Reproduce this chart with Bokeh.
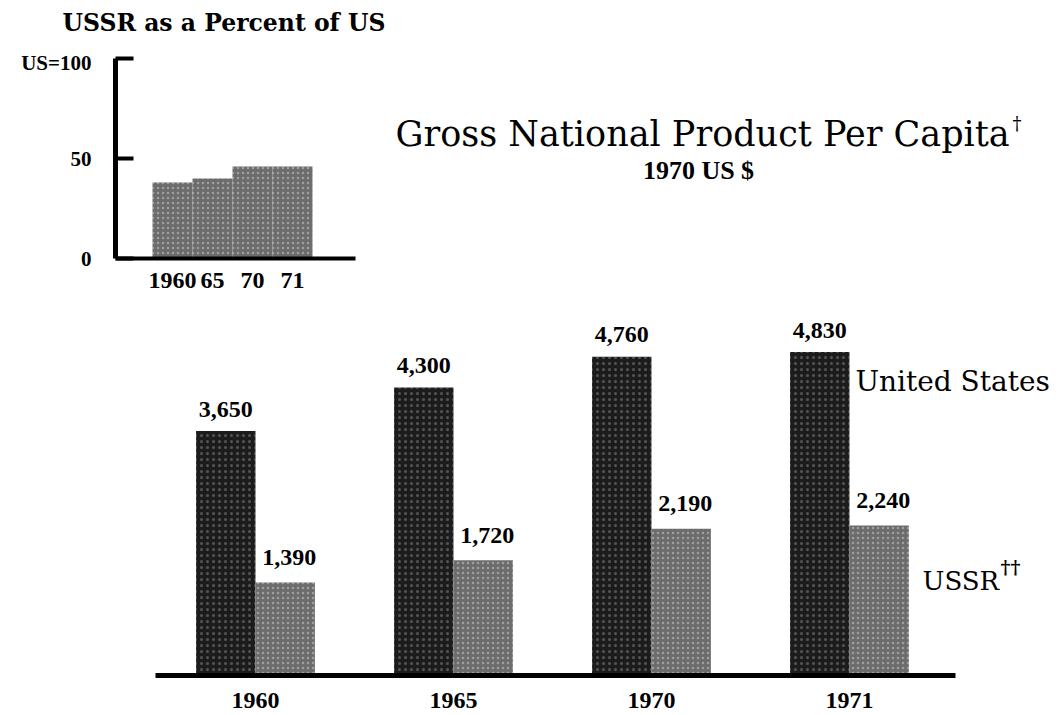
from bokeh.plotting import figure
from bokeh.models import Label, FixedTicker, Range1d, ColumnDataSource
from bokeh.layouts import column, row
from bokeh.embed import file_html
from bokeh.resources import INLINE
from bokeh.core.properties import value

# ---------------- data ----------------
years = ["1960", "1965", "1970", "1971"]
us_gnp = [3650, 4300, 4760, 4830]
ussr_gnp = [1390, 1720, 2190, 2240]

inset_years = ["1960", "65", "70", "71"]
ussr_pct_of_us = [38, 40, 46, 46]
inset_ticks = [0, 50, 100]
inset_tick_labels = {0: "0", 50: "50", 100: "US=100"}

SERIF = "DejaVu Serif"
NUMF = "Liberation Serif"
US_COLOR = "#1c1c1c"
USSR_COLOR = "#6c6c6c"


def base_fig(**kw):
    f = figure(output_backend="svg", toolbar_location=None, **kw)
    f.outline_line_color = None
    f.xgrid.grid_line_color = None
    f.ygrid.grid_line_color = None
    if hasattr(f, "frame_align"):
        f.frame_align = False
    return f


def text_fig(w, h):
    return base_fig(width=w, height=h, x_range=Range1d(0, w), y_range=Range1d(0, h),
                    x_axis_location=None, y_axis_location=None,
                    min_border_left=0, min_border_right=0, min_border_top=0, min_border_bottom=0)


# ---------------- small title above the inset ----------------
cap = text_fig(390, 50)
cap.add_layout(Label(x=62, y=28, text="USSR as a Percent of US", text_font=SERIF,
                     text_font_style="bold", text_font_size="23.5px", text_baseline="middle",
                     text_align="left", text_color="black"))

# ---------------- inset ----------------
inset = base_fig(width=390, height=250, x_range=Range1d(-1.425, 4.575), y_range=Range1d(0, 100),
                 min_border_left=115, min_border_right=35, min_border_top=8, min_border_bottom=42)
idx = list(range(len(inset_years)))
inset.vbar(x=idx, top=ussr_pct_of_us, bottom=0, width=1.0, fill_color=USSR_COLOR, line_color=None,
           hatch_pattern="dot", hatch_color="white", hatch_alpha=0.35, hatch_scale=5)

xa = inset.xaxis[0]
xa.ticker = FixedTicker(ticks=idx)
xa.major_label_overrides = {i: s for i, s in zip(idx, inset_years)}
xa.axis_line_width = 4
xa.major_tick_in = 0
xa.major_tick_out = 0
xa.minor_tick_line_color = None
xa.major_label_standoff = 14
xa.major_label_text_font = NUMF
xa.major_label_text_font_style = "bold"
xa.major_label_text_font_size = "24px"
xa.major_label_text_color = "black"

ya = inset.yaxis[0]
ya.ticker = FixedTicker(ticks=inset_ticks)
ya.major_label_overrides = inset_tick_labels
ya.axis_line_width = 5
ya.major_tick_in = 18
ya.major_tick_out = 0
ya.major_tick_line_width = 4
ya.minor_tick_line_color = None
ya.major_label_standoff = 24
ya.major_label_text_font = NUMF
ya.major_label_text_font_style = "bold"
ya.major_label_text_font_size = "21px"
ya.major_label_text_color = "black"

# ---------------- main title block ----------------
ttl = text_fig(670, 300)
ttl.add_layout(Label(x=5, y=167, text="Gross National Product Per Capita", text_font=SERIF,
                     text_font_size="35px", text_baseline="alphabetic", text_align="left",
                     text_color="black"))
ttl.add_layout(Label(x=622, y=177, text="\u2020", text_font=SERIF,
                     text_font_size="18px", text_baseline="alphabetic", text_align="left",
                     text_color="black"))
ttl.add_layout(Label(x=308, y=130, text="1970 US $", text_font=NUMF, text_font_style="bold",
                     text_font_size="26px", text_baseline="alphabetic", text_align="center",
                     text_color="black"))

# ---------------- main figure ----------------
main = base_fig(width=1060, height=415, x_range=Range1d(-0.505, 4.066), y_range=Range1d(0, 5540),
                y_axis_location=None,
                min_border_left=155, min_border_right=0, min_border_top=4, min_border_bottom=40)

gi = list(range(len(years)))
us_x = [i - 0.15 for i in gi]
ussr_x = [i + 0.15 for i in gi]
src = ColumnDataSource(dict(us_x=us_x, ussr_x=ussr_x, us=us_gnp, ussr=ussr_gnp,
                            us_lbl=[f"{v:,}" for v in us_gnp],
                            ussr_lbl=[f"{v:,}" for v in ussr_gnp]))

main.vbar(x="us_x", top="us", bottom=0, width=0.3, source=src, fill_color=US_COLOR, line_color=None,
          hatch_pattern="dot", hatch_color="white", hatch_alpha=0.25, hatch_scale=6)
main.vbar(x="ussr_x", top="ussr", bottom=0, width=0.3, source=src, fill_color=USSR_COLOR, line_color=None,
          hatch_pattern="dot", hatch_color="white", hatch_alpha=0.35, hatch_scale=5)

main.text(x="us_x", y="us", text="us_lbl", source=src, text_align="center", text_baseline="alphabetic",
          y_offset=-22, text_font=value(NUMF), text_font_style="bold", text_font_size="24px",
          text_color="black")
main.text(x="ussr_x", y="ussr", text="ussr_lbl", source=src, text_align="center", text_baseline="alphabetic",
          x_offset=4, y_offset=-25, text_font=value(NUMF), text_font_style="bold", text_font_size="24px",
          text_color="black")

mx = main.xaxis[0]
mx.ticker = FixedTicker(ticks=gi)
mx.major_label_overrides = {i: s for i, s in zip(gi, years)}
mx.bounds = (-0.505, 3.535)
mx.axis_line_width = 5
mx.major_tick_in = 0
mx.major_tick_out = 0
mx.minor_tick_line_color = None
mx.major_label_standoff = 17
mx.major_label_text_font = NUMF
mx.major_label_text_font_style = "bold"
mx.major_label_text_font_size = "24px"
mx.major_label_text_color = "black"

main.add_layout(Label(x=3.03, y=4388, text="United States", text_font=SERIF, text_font_size="28px",
                      text_baseline="middle", text_align="left", text_color="black"))
main.add_layout(Label(x=3.369, y=1418, text="USSR", text_font=SERIF, text_font_size="26px",
                      text_baseline="middle", text_align="left", text_color="black"))
main.add_layout(Label(x=3.763, y=1620, text="\u2020\u2020", text_font=SERIF, text_font_style="bold",
                      text_font_size="19px", text_baseline="middle", text_align="left",
                      text_color="black"))

layout = column(row(column(cap, inset, spacing=0), ttl, spacing=0), main, spacing=0)
open("out.html", "w").write(file_html(layout, INLINE))
